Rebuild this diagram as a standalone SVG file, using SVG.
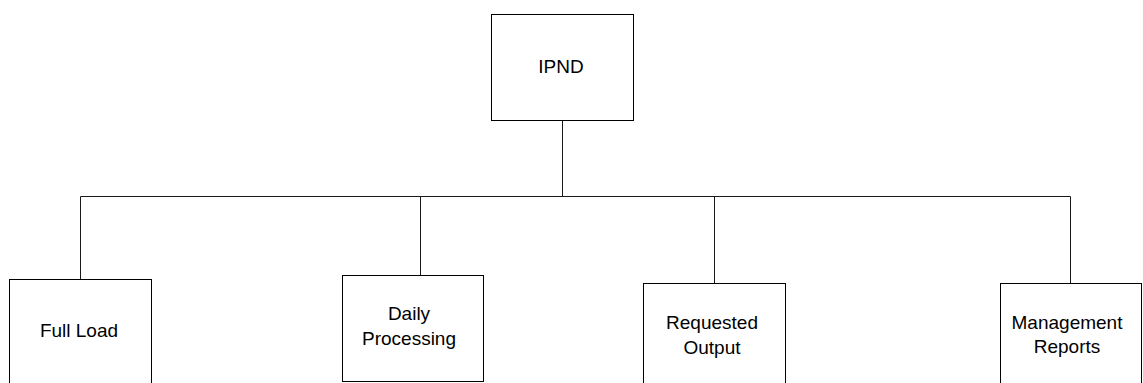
<svg xmlns="http://www.w3.org/2000/svg" width="1143" height="383" viewBox="0 0 1143 383">
  <style>
    .box { fill: #ffffff; stroke: #000000; stroke-width: 1; }
    .wire { fill: none; stroke: #1a1a1a; stroke-width: 1; }
    .label { font-family: "Liberation Sans", Arial, sans-serif; font-size: 19px; fill: #000000; text-anchor: middle; }
  </style>
  <rect width="1143" height="383" fill="#ffffff"/>

  <!-- tree connectors -->
  <g id="connectors">
    <path class="wire" d="M562.5 120.5 V196.5"/>
    <path class="wire" d="M80.5 196.5 H1070.5"/>
    <path class="wire" d="M80.5 196.5 V279.5"/>
    <path class="wire" d="M420.5 196.5 V275.5"/>
    <path class="wire" d="M714.5 196.5 V283.5"/>
    <path class="wire" d="M1070.5 196.5 V283.5"/>
  </g>

  <g id="node-ipnd">
    <rect class="box" x="491.5" y="14.5" width="142" height="106"/>
    <text class="label" x="561" y="72.5">IPND</text>
  </g>

  <g id="node-full-load">
    <rect class="box" x="9.5" y="279.5" width="142" height="110"/>
    <text class="label" x="79" y="337">Full Load</text>
  </g>

  <g id="node-daily-processing">
    <rect class="box" x="342.5" y="275.5" width="141" height="106"/>
    <text class="label" x="409" y="320">Daily</text>
    <text class="label" x="409" y="345">Processing</text>
  </g>

  <g id="node-requested-output">
    <rect class="box" x="643.5" y="283.5" width="142" height="110"/>
    <text class="label" x="712" y="329">Requested</text>
    <text class="label" x="712" y="354">Output</text>
  </g>

  <g id="node-management-reports">
    <rect class="box" x="1000.5" y="283.5" width="141" height="110"/>
    <text class="label" x="1067" y="329">Management</text>
    <text class="label" x="1067" y="353">Reports</text>
  </g>
</svg>
